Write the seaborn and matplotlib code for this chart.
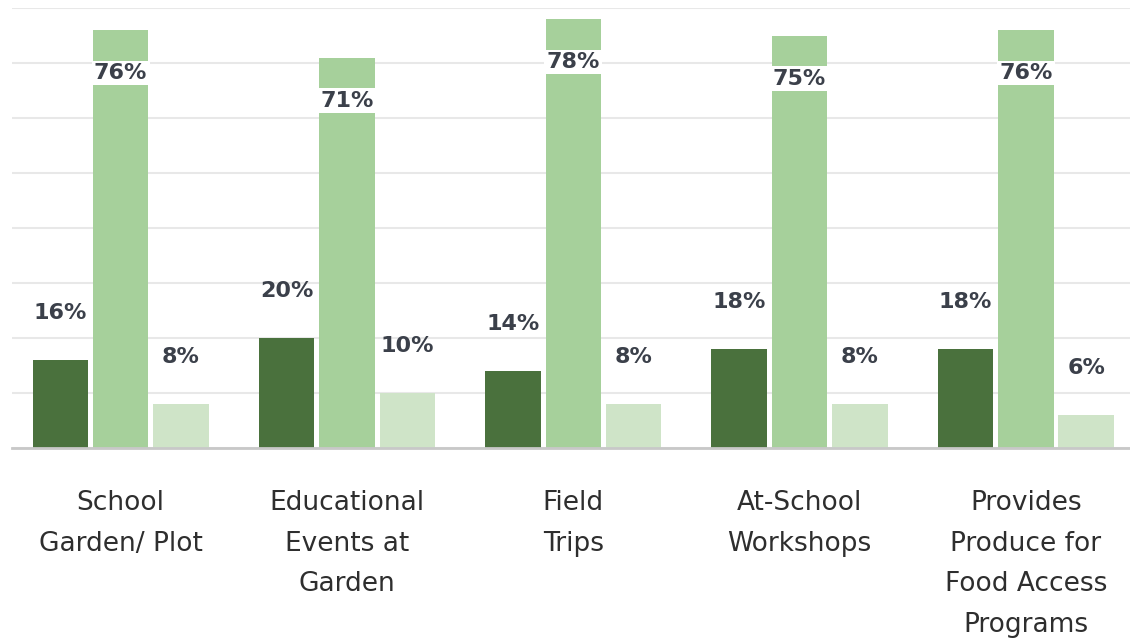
import seaborn as sns
import matplotlib.pyplot as plt
import pandas as pd

categories = ["School\nGarden/ Plot", "Educational\nEvents at\nGarden", "Field\nTrips",
              "At-School\nWorkshops", "Provides\nProduce for\nFood Access\nPrograms"]
series = ["A", "B", "C"]
vals_a = [16, 20, 14, 18, 18]
vals_b = [76, 71, 78, 75, 76]
vals_c = [8, 10, 8, 8, 6]
colors = ["#4a713d", "#a6d09b", "#cfe4c8"]

df = pd.DataFrame({
    "category": categories * 3,
    "series": [s for s in series for _ in categories],
    "value": vals_a + vals_b + vals_c,
})

sns.set_style("white")
plt.rcParams['font.family'] = ['DejaVu Sans']

fig = plt.figure(figsize=(11.3, 6.41), dpi=100)
ax = fig.add_axes([12 / 1130, 1 - 448 / 641, 1 - 12 / 1130, 440 / 641])

sns.barplot(data=df, x="category", y="value", hue="series", palette=colors,
            width=0.8, gap=0.08, legend=False, ax=ax, saturation=1, linewidth=0)

ax.set_ylim(0, 80)
ax.set_xlim(-0.48, 4.46)
ax.set_yticks(range(0, 81, 10))
ax.yaxis.grid(True, color="#e8e8e8", linewidth=1.5)
ax.set_axisbelow(True)
ax.tick_params(axis="y", left=False, labelleft=False)
ax.tick_params(axis="x", bottom=False, pad=27, labelsize=19, labelcolor="#2e2e2e")
for lab in ax.get_xticklabels():
    lab.set_linespacing(1.72)
    lab.set_verticalalignment("top")
ax.set_xlabel("")
ax.set_ylabel("")
for side in ["top", "right", "left"]:
    ax.spines[side].set_visible(False)
ax.spines["bottom"].set_color("#c8c8c8")
ax.spines["bottom"].set_linewidth(2)

# percent labels: inside the tall bars with a white box, above the short ones
for i, cont in enumerate(ax.containers):
    for bar in cont:
        x = bar.get_x() + bar.get_width() / 2
        h = bar.get_height()
        if i == 1:
            ax.annotate(f"{h:.0f}%", (x, h), xytext=(0, -31), textcoords="offset points",
                        ha="center", va="center", fontsize=16, fontweight="bold",
                        color="#3b404a",
                        bbox=dict(boxstyle="square,pad=0.1", fc="white", ec="none"))
        else:
            ax.annotate(f"{h:.0f}%", (x, h), xytext=(0, 34), textcoords="offset points",
                        ha="center", va="center", fontsize=16, fontweight="bold",
                        color="#3b404a")

fig.savefig("out.png", dpi=100)
